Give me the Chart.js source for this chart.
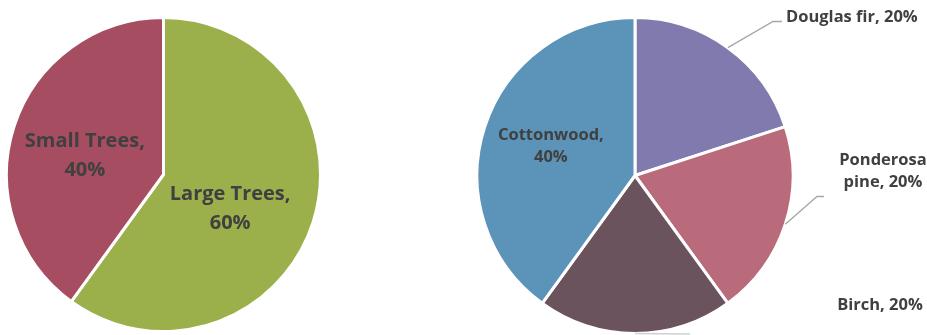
<!DOCTYPE html>
<html>
<head>
<meta charset="utf-8">
<script src="https://cdn.jsdelivr.net/npm/chart.js@4.4.1/dist/chart.umd.min.js"></script>
<style>
  html, body { margin: 0; padding: 0; background: #ffffff; }
  #wrap { position: relative; width: 927px; height: 335px; overflow: hidden; }
  .box { position: absolute; top: 0; height: 335px; }
  #leftBox { left: 0; width: 470px; }
  #rightBox { left: 470px; width: 457px; }
</style>
</head>
<body>
<div id="wrap">
  <div class="box" id="leftBox"><canvas id="sizeChart"></canvas></div>
  <div class="box" id="rightBox"><canvas id="speciesChart"></canvas></div>
</div>
<script>
// Tree size split
const sizeLabels = ['Large Trees', 'Small Trees'];
const sizeValues = [60, 40];
const sizeColors = ['#9BAF4A', '#A64D61'];

// Species split
const speciesLabels = ['Douglas fir', 'Ponderosa pine', 'Birch', 'Cottonwood'];
const speciesValues = [20, 20, 20, 40];
const speciesColors = ['#807AAE', '#B96B7C', '#6B535D', '#5C93B9'];

const TEXT = '#404040';
const FONT = '"Open Sans", Lato, sans-serif';

// percent labels; each entry says where the text sits relative to the slice
// inside: drawn around the slice centroid, shifted by dx/dy
// outside: drawn at an anchor relative to the pie centre, with a leader line
function pctOf(values, i) {
    const total = values.reduce((a, b) => a + b, 0);
    return Math.round(values[i] / total * 100) + '%';
}

const pieLabels = {
    id: 'pieLabels',
    afterDatasetsDraw(chart, args, opts) {
        const ctx = chart.ctx;
        const meta = chart.getDatasetMeta(0);
        const values = chart.data.datasets[0].data;
        ctx.save();
        ctx.fillStyle = TEXT;
        ctx.font = 'bold ' + opts.size + 'px ' + FONT;
        ctx.textBaseline = 'middle';
        meta.data.forEach((arc, i) => {
            const spec = opts.items[i];
            const name = chart.data.labels[i];
            const pct = pctOf(values, i);
            const cx = arc.x, cy = arc.y;
            const mid = (arc.startAngle + arc.endAngle) / 2;
            if (spec.mode === 'inside') {
                const r = arc.outerRadius / 2;
                const x = cx + Math.cos(mid) * r + spec.dx;
                const y = cy + Math.sin(mid) * r + spec.dy;
                ctx.textAlign = 'center';
                ctx.fillText(name + ',', x, y - opts.lineGap / 2);
                ctx.fillText(pct, x, y + opts.lineGap / 2);
                return;
            }
            // leader line from the rim to the label
            const ex = cx + Math.cos(mid) * arc.outerRadius;
            const ey = cy + Math.sin(mid) * arc.outerRadius;
            if (spec.line) {
                ctx.strokeStyle = spec.lineColor || '#A6A6A6';
                ctx.lineWidth = 1.3;
                ctx.beginPath();
                ctx.moveTo(ex, ey);
                spec.line.forEach(p => ctx.lineTo(cx + p[0], cy + p[1]));
                ctx.stroke();
            }
            ctx.textAlign = spec.align;
            const lx = cx + spec.x, ly = cy + spec.y;
            if (spec.wrap) {
                ctx.fillText(spec.wrap[0], lx, ly - opts.lineGap / 2);
                ctx.fillText(spec.wrap[1] + ', ' + pct, lx, ly + opts.lineGap / 2);
            } else {
                ctx.fillText(name + ', ' + pct, lx, ly);
            }
        });
        ctx.restore();
    }
};

const baseOptions = {
    responsive: true,
    maintainAspectRatio: false,
    animation: false,
    rotation: 0,
    plugins: {
        legend: { display: false },
        tooltip: { enabled: false }
    }
};

new Chart(document.getElementById('sizeChart'), {
    type: 'pie',
    data: {
        labels: sizeLabels,
        datasets: [{
            data: sizeValues,
            backgroundColor: sizeColors,
            borderColor: '#ffffff',
            borderWidth: 3
        }]
    },
    options: {
        ...baseOptions,
        layout: { padding: { left: 5, right: 148, top: 16, bottom: 2 } },
        plugins: {
            ...baseOptions.plugins,
            pieLabels: {
                size: 20,
                lineGap: 29,
                items: [
                    { mode: 'inside', dx: -8, dy: 10 },
                    { mode: 'inside', dx: -4, dy: 6 }
                ]
            }
        }
    },
    plugins: [pieLabels]
});

new Chart(document.getElementById('speciesChart'), {
    type: 'pie',
    data: {
        labels: speciesLabels,
        datasets: [{
            data: speciesValues,
            backgroundColor: speciesColors,
            borderColor: '#ffffff',
            borderWidth: 3
        }]
    },
    options: {
        ...baseOptions,
        layout: { padding: { left: 5, right: 132, top: 16, bottom: 0 } },
        plugins: {
            ...baseOptions.plugins,
            pieLabels: {
                size: 16.5,
                lineGap: 22,
                items: [
                    { mode: 'outside', align: 'left', x: 151, y: -158, line: [[138, -154], [147, -154]] },
                    { mode: 'outside', align: 'center', x: 248, y: -4, wrap: ['Ponderosa', 'pine'], line: [[182, 21], [189, 21]] },
                    { mode: 'outside', align: 'center', x: 245, y: 130, line: [[55, 158.5]], lineColor: '#D0D0D0' },
                    { mode: 'inside', dx: -9, dy: -5 }
                ]
            }
        }
    },
    plugins: [pieLabels]
});
</script>
</body>
</html>
